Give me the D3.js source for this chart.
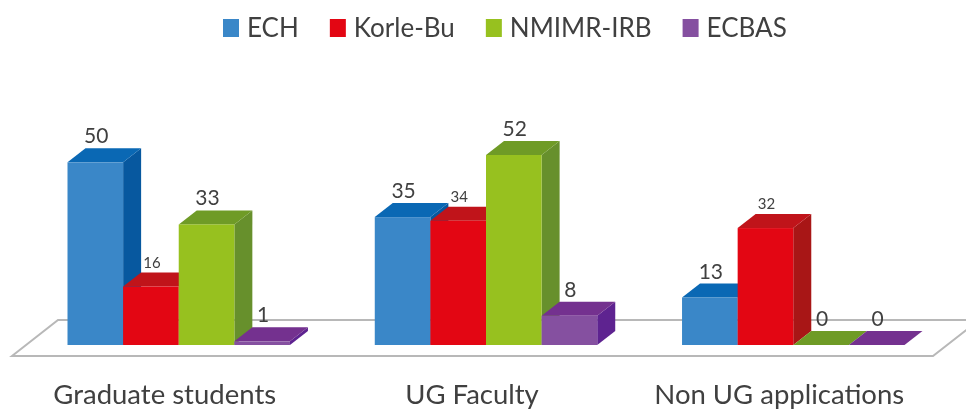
<!DOCTYPE html>
<html>
<head>
<meta charset="utf-8">
<script src="https://cdnjs.cloudflare.com/ajax/libs/d3/7.8.5/d3.min.js"></script>
<style>
  html, body { margin: 0; background: #fff; overflow: hidden; }
  svg { display: block; font-family: Lato, "Open Sans", sans-serif; filter: blur(0.5px); }
  text { fill: #404040; }
</style>
</head>
<body>
<div id="chart"></div>
<script>
const categories = ['Graduate students', 'UG Faculty', 'Non UG applications'];
const seriesNames = ['ECH', 'Korle-Bu', 'NMIMR-IRB', 'ECBAS'];
const ech = [50, 35, 13];
const korleBu = [16, 34, 32];
const nmimrIrb = [33, 52, 0];
const ecbas = [1, 8, 0];
const seriesValues = [ech, korleBu, nmimrIrb, ecbas];
const smallLabels = ['Korle-Bu'];

const width = 966, height = 410;
const baseY = 345, depthX = 18, depthY = 14;
const colors = {
	'ECH': { front: '#3a87c8', top: '#0a68b4', side: '#07589f' },
	'Korle-Bu': { front: '#e30613', top: '#c0141a', side: '#a81616' },
	'NMIMR-IRB': { front: '#97c11f', top: '#6f9b26', side: '#67902c' },
	'ECBAS': { front: '#8550a0', top: '#74318f', side: '#5e2390' }
};

const svg = d3.select('#chart').append('svg')
	.attr('width', width)
	.attr('height', height);

const x0 = d3.scaleBand()
	.domain(categories)
	.range([67.5, 904.5])
	.paddingInner(0.276);
const x1 = d3.scaleBand()
	.domain(seriesNames)
	.range([0, x0.bandwidth()]);
const y = d3.scaleLinear()
	.domain([0, 52])
	.range([baseY, 155]);

// floor
svg.append('path')
	.attr('d', 'M12,356L58,320L979,320L933,356Z')
	.attr('fill', '#fff')
	.attr('stroke', '#b8b8b8')
	.attr('stroke-width', 2);

const bars = [];
categories.forEach((c, i) => {
	seriesNames.forEach((s, j) => {
		bars.push({ category: c, series: s, value: seriesValues[j][i] });
	});
});

const poly = pts => 'M' + pts.map(p => p.join(',')).join('L') + 'Z';

const bar = svg.append('g').selectAll('g.bar')
	.data(bars)
	.enter().append('g')
	.attr('class', 'bar');

// side face only for bars that have height
bar.filter(d => d.value > 0).append('path')
	.attr('fill', d => colors[d.series].side)
	.attr('d', d => {
		const r = x0(d.category) + x1(d.series) + x1.bandwidth();
		return poly([[r, y(d.value)], [r + depthX, y(d.value) - depthY],
			[r + depthX, baseY - depthY], [r, baseY]]);
	});

bar.append('path')
	.attr('fill', d => colors[d.series].top)
	.attr('d', d => {
		const l = x0(d.category) + x1(d.series), r = l + x1.bandwidth(), t = y(d.value);
		return poly([[l, t], [l + depthX, t - depthY], [r + depthX, t - depthY], [r, t]]);
	});

bar.append('rect')
	.attr('x', d => x0(d.category) + x1(d.series))
	.attr('y', d => y(d.value))
	.attr('width', x1.bandwidth())
	.attr('height', d => baseY - y(d.value))
	.attr('fill', d => colors[d.series].front);

// value labels
svg.append('g').selectAll('text')
	.data(bars)
	.enter().append('text')
	.attr('x', d => x0(d.category) + x1(d.series) + x1.bandwidth() / 2 + 1)
	.attr('y', d => y(d.value) - depthY - 5)
	.attr('text-anchor', 'middle')
	.style('font-size', d => smallLabels.includes(d.series) ? '15px' : '21px')
	.text(d => d.value);

// category labels sit under the front edge of the floor, a bit left of the bars
const xAxis = d3.axisBottom(x0).tickSize(0).tickPadding(0);
const axisG = svg.append('g')
	.attr('transform', 'translate(-14, 384.5)')
	.call(xAxis);
axisG.select('.domain').remove();
axisG.selectAll('text')
	.attr('fill', '#404040')
	.style('font-family', 'Lato, "Open Sans", sans-serif')
	.style('font-size', '27.5px');

// legend
const legend = svg.append('g').attr('class', 'legend');
let legendX = 223;
seriesNames.forEach(s => {
	legend.append('rect')
		.attr('x', legendX)
		.attr('y', 19)
		.attr('width', 16)
		.attr('height', 18)
		.attr('fill', colors[s].front);
	const label = legend.append('text')
		.attr('x', legendX + 24)
		.attr('y', 37)
		.style('font-size', '26px')
		.text(s);
	legendX += 24 + label.node().getComputedTextLength() + 31;
});
</script>
</body>
</html>
